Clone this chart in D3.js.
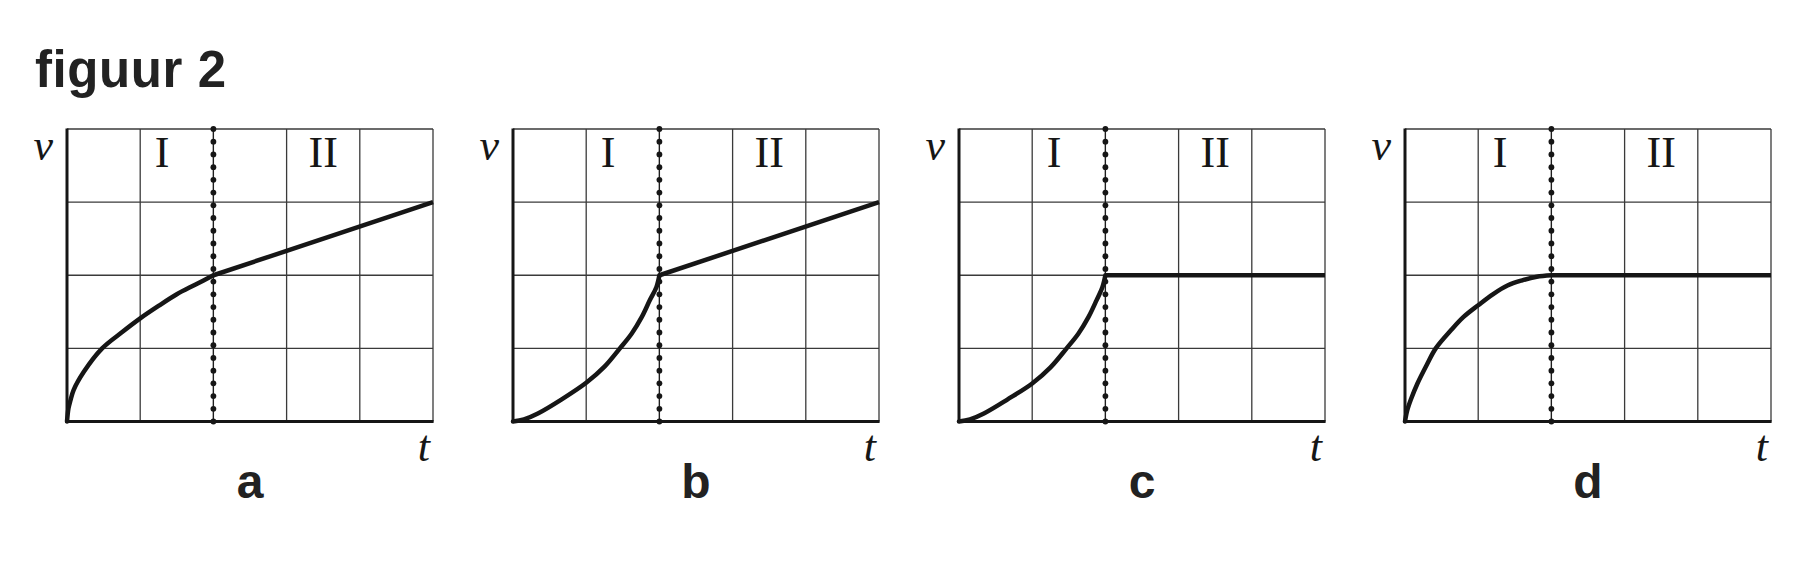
<!DOCTYPE html>
<html>
<head>
<meta charset="utf-8">
<script src="https://cdn.jsdelivr.net/npm/d3@7"></script>
<style>
  html, body { margin: 0; padding: 0; background: #fff; }
  svg { display: block; }
</style>
</head>
<body>
<svg id="chart" width="1802" height="574"></svg>
<script>
// ---- data ----
const title = "figuur 2";
const panelLabels = ["a", "b", "c", "d"];
const phaseLabels = ["I", "II"];
const phaseLabelT = [1.3, 3.5];
const gridT = [0, 1, 2, 3, 4, 5];
const gridV = [0, 1, 2, 3, 4];
const boundaryT = 2;
const axisLabelV = "v";
const axisLabelT = "t";

// panel a
const aPhase1T = [0, 0.02, 0.045, 0.09, 0.23, 0.48, 0.75, 1, 1.25, 1.5, 1.75, 2];
const aPhase1V = [0, 0.18, 0.28, 0.43, 0.68, 1.0, 1.22, 1.41, 1.58, 1.74, 1.87, 2];
const aPhase2T = [2, 5];
const aPhase2V = [2, 3];
// panel b
const bPhase1T = [0, 0.15, 0.34, 0.66, 1, 1.25, 1.46, 1.62, 1.76, 1.87, 1.96, 2];
const bPhase1V = [0, 0.03, 0.11, 0.3, 0.53, 0.75, 1.0, 1.2, 1.43, 1.66, 1.84, 2];
const bPhase2T = [2, 5];
const bPhase2V = [2, 3];
// panel c
const cPhase1T = [0, 0.15, 0.34, 0.66, 1, 1.25, 1.47, 1.63, 1.77, 1.88, 1.96, 2];
const cPhase1V = [0, 0.03, 0.11, 0.3, 0.52, 0.74, 1.0, 1.2, 1.43, 1.66, 1.84, 2];
const cPhase2T = [2, 5];
const cPhase2V = [2, 2];
// panel d
const dPhase1T = [0, 0.03, 0.08, 0.17, 0.3, 0.42, 0.63, 0.8, 1, 1.2, 1.4, 1.6, 1.8, 2];
const dPhase1V = [0, 0.15, 0.3, 0.52, 0.78, 1.0, 1.25, 1.43, 1.59, 1.74, 1.86, 1.93, 1.98, 2];
const dPhase2T = [2, 5];
const dPhase2V = [2, 2];

const series = [
  { p1t: aPhase1T, p1v: aPhase1V, p2t: aPhase2T, p2v: aPhase2V },
  { p1t: bPhase1T, p1v: bPhase1V, p2t: bPhase2T, p2v: bPhase2V },
  { p1t: cPhase1T, p1v: cPhase1V, p2t: cPhase2T, p2v: cPhase2V },
  { p1t: dPhase1T, p1v: dPhase1V, p2t: dPhase2T, p2v: dPhase2V }
];

// ---- layout ----
const svg = d3.select("#chart");
const ink = "#161616";
const gridCol = "#3a3a3a";
const panelW = 366, plotTop = 129, plotBottom = 421.5;
const panelStep = 446, firstLeft = 67;
const sans = "'Liberation Sans', Arial, Helvetica, sans-serif";
const serif = "'Liberation Serif', 'Times New Roman', serif";

svg.append("text")
  .attr("x", 35).attr("y", 87)
  .attr("font-family", sans).attr("font-weight", "bold")
  .attr("font-size", 51).attr("letter-spacing", 0.6)
  .attr("fill", "#222")
  .text(title);

series.forEach((s, i) => {
  const left = firstLeft + i * panelStep;
  const x = d3.scaleLinear().domain([0, 5]).range([left, left + panelW]);
  const y = d3.scaleLinear().domain([0, 4]).range([plotBottom, plotTop]);
  const g = svg.append("g");

  // grid
  g.selectAll(".vg").data(gridT.slice(1)).enter().append("line")
    .attr("x1", d => x(d)).attr("x2", d => x(d))
    .attr("y1", y(0)).attr("y2", y(4))
    .attr("stroke", gridCol).attr("stroke-width", 1.3);
  g.selectAll(".hg").data(gridV.slice(1)).enter().append("line")
    .attr("x1", x(0)).attr("x2", x(5))
    .attr("y1", d => y(d)).attr("y2", d => y(d))
    .attr("stroke", gridCol).attr("stroke-width", 1.3);

  // axes (left and bottom, thicker)
  g.append("line").attr("x1", x(0)).attr("x2", x(0)).attr("y1", y(4) - 0.6).attr("y2", y(0) + 1.3)
    .attr("stroke", ink).attr("stroke-width", 3);
  g.append("line").attr("x1", x(0) - 1.5).attr("x2", x(5) + 0.6).attr("y1", y(0)).attr("y2", y(0))
    .attr("stroke", ink).attr("stroke-width", 2.8);

  // dotted boundary
  g.append("line").attr("x1", x(boundaryT)).attr("x2", x(boundaryT))
    .attr("y1", y(4)).attr("y2", y(0))
    .attr("stroke", ink).attr("stroke-width", 1.2).attr("opacity", 0.75);
  const nDots = 24;
  g.selectAll(".dot").data(d3.range(nDots)).enter().append("circle")
    .attr("cx", x(boundaryT))
    .attr("cy", k => y(4) + k * (y(0) - y(4)) / (nDots - 1))
    .attr("r", 2.9).attr("fill", ink);

  // curves
  const p1 = s.p1t.map((t, k) => [t, s.p1v[k]]);
  const p2 = s.p2t.map((t, k) => [t, s.p2v[k]]);
  g.append("path").datum(p1)
    .attr("d", d3.line().x(d => x(d[0])).y(d => y(d[1])).curve(d3.curveCatmullRom.alpha(0.5)))
    .attr("fill", "none").attr("stroke", ink).attr("stroke-width", 4.5)
    .attr("stroke-linejoin", "round").attr("stroke-linecap", "round");
  g.append("path").datum(p2)
    .attr("d", d3.line().x(d => x(d[0])).y(d => y(d[1])))
    .attr("fill", "none").attr("stroke", ink).attr("stroke-width", 4.5)
    .attr("stroke-linejoin", "round").attr("stroke-linecap", "butt");

  // phase labels
  phaseLabels.forEach((lab, k) => {
    g.append("text").attr("x", x(phaseLabelT[k])).attr("y", plotTop + 38)
      .attr("text-anchor", "middle")
      .attr("font-family", serif).attr("font-size", 44)
      .attr("fill", ink).text(lab);
  });

  // axis labels
  g.append("text").attr("x", left - 14).attr("y", 160)
    .attr("text-anchor", "end")
    .attr("font-family", serif).attr("font-style", "italic").attr("font-size", 44)
    .attr("fill", ink).text(axisLabelV);
  g.append("text").attr("x", left + panelW - 3).attr("y", 461)
    .attr("text-anchor", "end")
    .attr("font-family", serif).attr("font-style", "italic").attr("font-size", 44)
    .attr("fill", ink).text(axisLabelT);

  // panel label
  g.append("text").attr("x", left + panelW / 2).attr("y", 498)
    .attr("text-anchor", "middle")
    .attr("font-family", sans).attr("font-weight", "bold").attr("font-size", 48)
    .attr("fill", "#222").text(panelLabels[i]);
});
</script>
</body>
</html>
